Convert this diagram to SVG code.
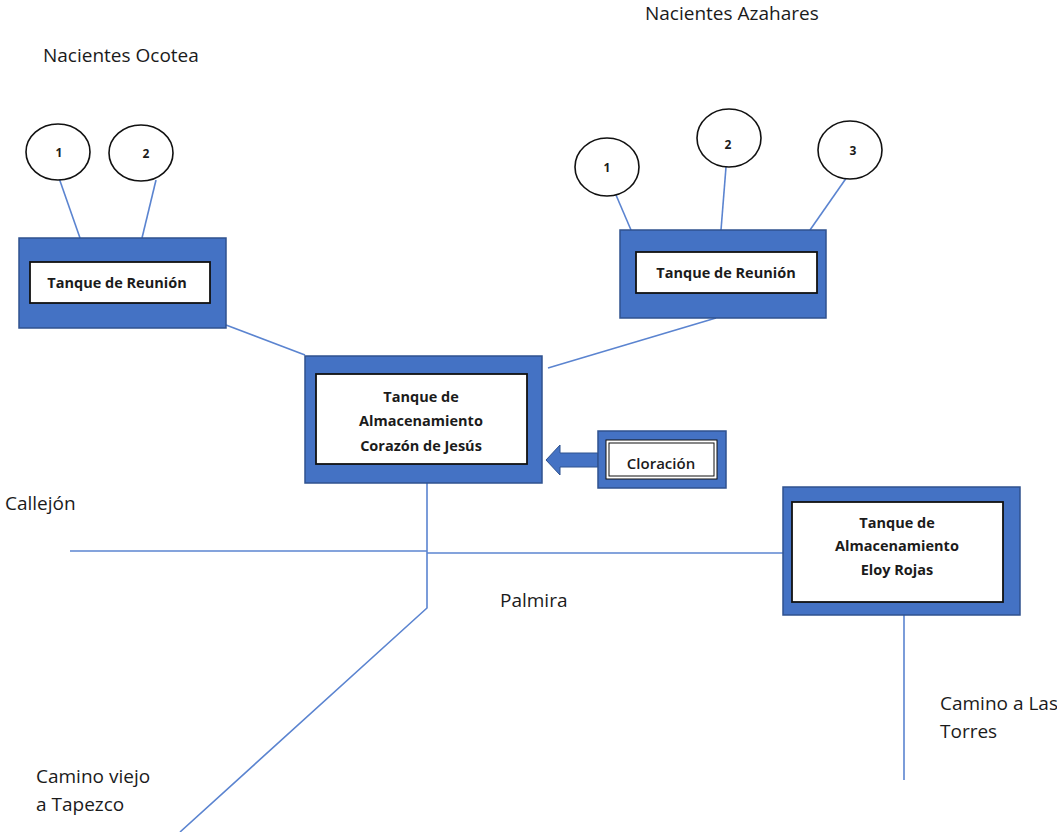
<svg xmlns="http://www.w3.org/2000/svg" width="1057" height="832" viewBox="0 0 1057 832">
  <style>
    .tank { fill: #4472C4; stroke: #2F528F; stroke-width: 1.5; }
    .panel { fill: #ffffff; stroke: #111111; stroke-width: 1.8; }
    .spring { fill: #ffffff; stroke: #111111; stroke-width: 1.6; }
    .pipe { fill: none; stroke: #5B84D0; stroke-width: 1.6; }
    .lbl { font-family: "Open Sans", "Liberation Sans", sans-serif; font-size: 19px; fill: #1b1b1b; }
    .bold { font-family: "Open Sans", "Liberation Sans", sans-serif; font-size: 14.5px; font-weight: bold; fill: #1b1b1b; text-anchor: middle; }
    .num { font-family: "Open Sans", "Liberation Sans", sans-serif; font-size: 12px; font-weight: bold; fill: #1b1b1b; text-anchor: middle; }
  </style>
  <rect width="1057" height="832" fill="#ffffff"/>

  <!-- pipes and roads -->
  <g id="connectors">
    <line class="pipe" x1="59" y1="178" x2="80" y2="238"/>
    <line class="pipe" x1="156" y1="180" x2="142" y2="238"/>
    <line class="pipe" x1="616" y1="195" x2="631" y2="230"/>
    <line class="pipe" x1="726" y1="167" x2="721" y2="230"/>
    <line class="pipe" x1="847" y1="177" x2="810" y2="230"/>
    <line class="pipe" x1="226" y1="325" x2="305" y2="355"/>
    <line class="pipe" x1="716" y1="318" x2="548" y2="368"/>
    <polyline class="pipe" points="427,483 427,608 180,832"/>
    <line class="pipe" x1="70" y1="551" x2="427" y2="551"/>
    <line class="pipe" x1="427" y1="553" x2="783" y2="553"/>
    <line class="pipe" x1="904" y1="615" x2="904" y2="780"/>
  </g>

  <!-- Ocotea springs -->
  <g id="ocotea-1">
    <ellipse class="spring" cx="58" cy="152" rx="32" ry="28"/>
    <text class="num" x="59" y="157">1</text>
  </g>
  <g id="ocotea-2">
    <ellipse class="spring" cx="141" cy="153" rx="32" ry="28"/>
    <text class="num" x="146" y="158">2</text>
  </g>

  <!-- Azahares springs -->
  <g id="azahares-1">
    <ellipse class="spring" cx="607" cy="167" rx="32" ry="29"/>
    <text class="num" x="607" y="172">1</text>
  </g>
  <g id="azahares-2">
    <ellipse class="spring" cx="729" cy="138" rx="32" ry="29"/>
    <text class="num" x="728" y="149">2</text>
  </g>
  <g id="azahares-3">
    <ellipse class="spring" cx="850" cy="150" rx="32" ry="29"/>
    <text class="num" x="853" y="155">3</text>
  </g>

  <!-- Collection tanks -->
  <g id="reunion-ocotea">
    <rect class="tank" x="19" y="238" width="207" height="90"/>
    <rect class="panel" x="30" y="262" width="180" height="41"/>
    <text class="bold" x="117" y="288">Tanque de Reunión</text>
  </g>
  <g id="reunion-azahares">
    <rect class="tank" x="620" y="230" width="206" height="88"/>
    <rect class="panel" x="636" y="252" width="181" height="41"/>
    <text class="bold" x="726" y="278">Tanque de Reunión</text>
  </g>

  <!-- Storage tank Corazón de Jesús -->
  <g id="corazon-de-jesus">
    <rect class="tank" x="305" y="356" width="237" height="127"/>
    <rect class="panel" x="316" y="374" width="211" height="90"/>
    <text class="bold" x="421" y="402">Tanque de</text>
    <text class="bold" x="421" y="426">Almacenamiento</text>
    <text class="bold" x="421" y="451">Corazón de Jesús</text>
  </g>

  <!-- Chlorination unit -->
  <g id="cloracion">
    <path d="M598,453 L560,453 L560,445 L546,460 L560,475 L560,467 L598,467 Z" fill="#4472C4" stroke="#2F528F" stroke-width="1"/>
    <rect class="tank" x="598" y="431" width="128" height="57"/>
    <rect x="606" y="440" width="111" height="39" fill="#ffffff" stroke="#111111" stroke-width="1"/>
    <rect x="609" y="443" width="105" height="33" fill="none" stroke="#111111" stroke-width="1"/>
    <text class="bold" x="661" y="469" style="font-weight:600;font-size:15px">Cloración</text>
  </g>

  <!-- Storage tank Eloy Rojas -->
  <g id="eloy-rojas">
    <rect class="tank" x="783" y="487" width="237" height="128"/>
    <rect class="panel" x="792" y="502" width="211" height="100"/>
    <text class="bold" x="897" y="528">Tanque de</text>
    <text class="bold" x="897" y="551">Almacenamiento</text>
    <text class="bold" x="897" y="575">Eloy Rojas</text>
  </g>

  <!-- place names -->
  <g id="labels">
    <text class="lbl" x="43" y="62">Nacientes Ocotea</text>
    <text class="lbl" x="645" y="20">Nacientes Azahares</text>
    <text class="lbl" x="5" y="510">Callejón</text>
    <text class="lbl" x="500" y="607">Palmira</text>
    <text class="lbl" x="36" y="783">Camino viejo</text>
    <text class="lbl" x="36" y="811">a Tapezco</text>
    <text class="lbl" x="940" y="710">Camino a Las</text>
    <text class="lbl" x="940" y="738">Torres</text>
  </g>
</svg>
